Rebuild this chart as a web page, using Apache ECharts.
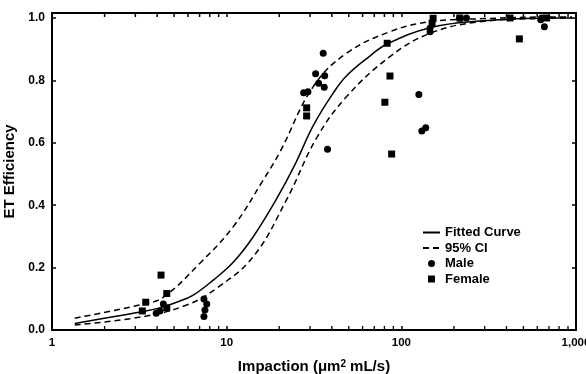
<!DOCTYPE html>
<html><head><meta charset="utf-8">
<script src="https://cdn.jsdelivr.net/npm/echarts@6/dist/echarts.min.js"></script>
<style>html,body{margin:0;padding:0;background:#fff}#c{width:586px;height:374px}</style>
</head><body><div id="c"></div>
<script>
// Fitted curve
const fitX = [1.35, 2.15, 3.33, 4.15, 5.17, 6.44, 8.38, 10.9, 14.2, 19.3, 24.6, 31.3, 40.8, 48.6, 66, 82.4, 146, 282, 700, 950];
const fitY = [0.021, 0.041, 0.059, 0.071, 0.089, 0.112, 0.160, 0.217, 0.299, 0.420, 0.530, 0.655, 0.760, 0.815, 0.878, 0.916, 0.969, 0.990, 1.0, 1.0];
// 95% CI upper / lower
const ciUpX = [1.35, 3.33, 4.34, 7.03, 10.9, 16.2, 20.2, 31.3, 48.6, 86, 146, 300, 700, 950];
const ciUpY = [0.038, 0.083, 0.105, 0.214, 0.331, 0.481, 0.571, 0.780, 0.887, 0.956, 0.988, 0.998, 1.003, 1.003];
const ciLoX = [1.35, 3.33, 5.9, 8.77, 14.2, 22, 32.7, 48.6, 86, 146, 282, 700, 950];
const ciLoY = [0.016, 0.043, 0.080, 0.134, 0.235, 0.417, 0.615, 0.748, 0.876, 0.951, 0.988, 0.999, 1.0];
// Male (circles)
const maleX = [4.34, 3.95, 4.15, 7.41, 7.51, 7.69, 7.41, 35.7, 32.3, 36.4, 33.6, 36.2, 27.6, 29.2, 37.8, 126, 131, 138, 146, 146, 216, 236, 628, 659, 636];
const maleY = [0.083, 0.054, 0.061, 0.043, 0.064, 0.083, 0.099, 0.887, 0.821, 0.815, 0.791, 0.778, 0.760, 0.764, 0.579, 0.755, 0.638, 0.648, 0.956, 0.967, 0.999, 1.0, 0.994, 0.972, 1.0];
// Female (squares)
const femaleX = [4.21, 4.54, 3.44, 3.29, 4.54, 28.7, 28.7, 86.1, 80.5, 88, 83, 152, 150, 216, 419, 474, 679];
const femaleY = [0.176, 0.117, 0.089, 0.061, 0.071, 0.712, 0.686, 0.814, 0.730, 0.564, 0.919, 0.999, 0.983, 1.0, 1.0, 0.933, 1.0];
// Axis ticks
const yTicks = [0, 0.2, 0.4, 0.6, 0.8, 1.0];
const xTickLabels = {1: '1', 10: '10', 100: '100', 1000: '1,000'};
const xMinorTicks = [2, 3, 4, 5, 6, 7, 8, 9, 20, 30, 40, 50, 60, 70, 80, 90, 200, 300, 400, 500, 600, 700, 800, 900];
const Y_MIN = 0, Y_MAX = 1.016;

const zip = (a, b) => a.map((v, i) => [v, b[i]]);
const font = 'Liberation Sans, Arial, sans-serif';
const chart = echarts.init(document.getElementById('c'), null, {renderer: 'canvas'});
const axLine = {show: true, onZero: false, lineStyle: {color: '#000', width: 2}};
// minor ticks on bottom (pointing up) and top (pointing down), placed through the x scale
const minorTickSeries = {
  type: 'custom', silent: true, clip: false, z: 10, tooltip: {show: false},
  data: xMinorTicks.map(v => [v]),
  encode: {x: 0},
  renderItem: (params, api) => {
    const v = api.value(0);
    const b = api.coord([v, Y_MIN]);
    const t = api.coord([v, Y_MAX]);
    return {type: 'group', children: [
      {type: 'line', shape: {x1: b[0], y1: b[1], x2: b[0], y2: b[1] - 4}, style: {stroke: '#000', lineWidth: 1.3}},
      {type: 'line', shape: {x1: t[0], y1: t[1], x2: t[0], y2: t[1] + 4}, style: {stroke: '#000', lineWidth: 1.5}}
    ]};
  }
};
chart.setOption({
  animation: false,
  backgroundColor: '#fff',
  grid: {left: 52, right: 10, top: 13, bottom: 44, containLabel: false, outerBoundsMode: 'none'},
  legend: {
    orient: 'vertical', left: 417, top: 221, itemWidth: 17, itemHeight: 7, itemGap: 2.5,
    textStyle: {fontFamily: font, fontWeight: 'bold', fontSize: 13, color: '#000', lineHeight: 13},
    data: [
      {name: 'Fitted Curve', itemStyle: {opacity: 0}},
      {name: '95% CI', itemStyle: {opacity: 0}},
      {name: 'Male', icon: 'circle'},
      {name: 'Female', icon: 'path://M0,0L10,0L10,10L0,10Z'}
    ]
  },
  xAxis: [{
    type: 'log', logBase: 10, min: 1, max: 1000, position: 'bottom',
    name: 'Impaction (μm{sup|2} mL/s)', nameLocation: 'middle', nameGap: 29,
    nameTextStyle: {fontFamily: font, fontWeight: 'bold', fontSize: 15, color: '#000',
      rich: {sup: {fontFamily: font, fontWeight: 'bold', fontSize: 10, color: '#000', verticalAlign: 'top', padding: [0, 0, 6, 0]}}},
    axisLine: axLine,
    axisTick: {show: true, inside: true, length: 4, lineStyle: {color: '#000', width: 1.5}},
    axisLabel: {fontFamily: font, fontWeight: 'bold', fontSize: 11.5, color: '#000', margin: 7,
      formatter: v => xTickLabels[Math.round(v)] || ''},
    splitLine: {show: false}
  }, {
    type: 'log', logBase: 10, min: 1, max: 1000, position: 'top',
    axisLine: axLine,
    axisTick: {show: true, inside: true, length: 4, lineStyle: {color: '#000', width: 1.5}},
    axisLabel: {show: false}, splitLine: {show: false}
  }],
  yAxis: [{
    type: 'value', min: Y_MIN, max: Y_MAX, interval: 0.2, position: 'left',
    name: 'ET Efficiency', nameLocation: 'middle', nameGap: 30,
    nameTextStyle: {fontFamily: font, fontWeight: 'bold', fontSize: 15, color: '#000'},
    axisLine: axLine,
    axisTick: {show: true, inside: true, length: 4, lineStyle: {color: '#000', width: 1.5}},
    axisLabel: {fontFamily: font, fontWeight: 'bold', fontSize: 12, color: '#000', margin: 7,
      formatter: v => yTicks.some(t => Math.abs(t - v) < 1e-6) ? v.toFixed(1) : ''},
    splitLine: {show: false}
  }, {
    type: 'value', min: Y_MIN, max: Y_MAX, interval: 0.2, position: 'right',
    axisLine: axLine,
    axisTick: {show: true, inside: true, length: 4, lineStyle: {color: '#000', width: 1.5}},
    axisLabel: {show: false}, splitLine: {show: false}
  }],
  series: [
    {name: 'Fitted Curve', type: 'line', symbol: 'none', smooth: 0.4, data: zip(fitX, fitY),
     lineStyle: {color: '#000', width: 1.5, type: 'solid'}, itemStyle: {color: '#000'}, z: 3},
    {name: '95% CI', type: 'line', symbol: 'none', smooth: 0.4, data: zip(ciUpX, ciUpY),
     lineStyle: {color: '#000', width: 1.5, type: [6, 4]}, itemStyle: {color: '#000'}, z: 3},
    {name: '95% CI', type: 'line', symbol: 'none', smooth: 0.4, data: zip(ciLoX, ciLoY),
     lineStyle: {color: '#000', width: 1.5, type: [6, 4]}, itemStyle: {color: '#000'}, z: 3},
    {name: 'Male', type: 'scatter', symbol: 'circle', symbolSize: 7, data: zip(maleX, maleY),
     itemStyle: {color: '#000', opacity: 1}, z: 4},
    {name: 'Female', type: 'scatter', symbol: 'rect', symbolSize: 7, data: zip(femaleX, femaleY),
     itemStyle: {color: '#000', opacity: 1}, z: 4},
    minorTickSeries
  ]
});
</script></body></html>
